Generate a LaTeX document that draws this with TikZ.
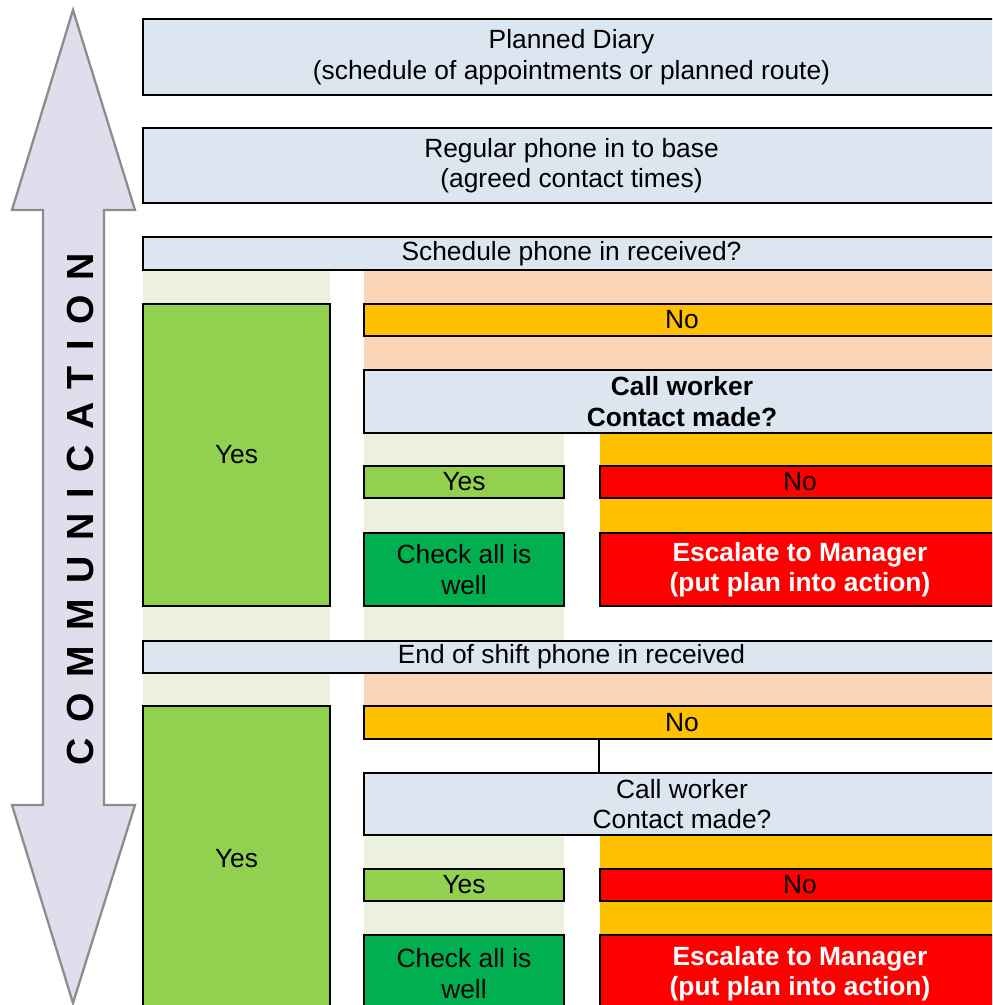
\documentclass[tikz,border=0pt]{standalone}
\usepackage{fontspec}
\setmainfont{Liberation Sans}
\newfontfamily\spacedfont[LetterSpace=41]{Liberation Sans}

\definecolor{boxblue}{HTML}{DCE6F1}
\definecolor{yesgreen}{HTML}{92D050}
\definecolor{okgreen}{HTML}{00B050}
\definecolor{amber}{HTML}{FFC000}
\definecolor{alarmred}{HTML}{FF0000}
\definecolor{peach}{HTML}{FBD5B5}
\definecolor{palegreen}{HTML}{EBF1DE}
\definecolor{lavender}{HTML}{E0DEEC}
\definecolor{arrowgrey}{HTML}{8C8C8C}

\begin{document}
\begin{tikzpicture}
                    [
                        x=0.02cm, y=-0.02cm,
                        cellsize/.style 2 args={minimum width=#1*0.02cm, minimum height=#2*0.02cm},
                        cell/.style={draw=black, line width=1.3pt, inner sep=0pt, align=center,
                                     font=\fontsize{15}{17.4}\selectfont},
                        askbox/.style={cell, fill=boxblue},
                        yesbox/.style={cell, fill=yesgreen},
                        nobox/.style={cell, fill=amber},
                        stopbox/.style={cell, fill=alarmred, text=white,
                                        font=\fontsize{15}{17.4}\selectfont\bfseries},
                        okbox/.style={cell, fill=okgreen}
                    ]

                    \useasboundingbox (0,0) rectangle (992,1005);
                    \clip (0,0) rectangle (992,1005);

                    % Hintergrund
                    \fill[palegreen] (143,270) rectangle (330,1005);
                    \fill[peach] (364,270) rectangle (992,370);
                    \fill[peach] (364,673) rectangle (992,706);
                    \fill[palegreen] (364,433) rectangle (564,641);
                    \fill[palegreen] (364,835) rectangle (564,1005);
                    \fill[amber] (600,433) rectangle (992,533);
                    \fill[amber] (600,835) rectangle (992,935);

                    % Doppelpfeil
                    \draw[fill=lavender, draw=arrowgrey, line width=1.3pt, line join=miter]
                        (73,10) -- (135,210) -- (104,210) -- (104,805) -- (135,805) -- (73,1003)
                        -- (12,805) -- (43,805) -- (43,210) -- (12,210) -- cycle;
                    \node[rotate=90, inner sep=0pt, font=\spacedfont\bfseries\fontsize{21.5}{24}\selectfont]
                        (comm) at (80,509) {COMMUNICATION};

                    \node[askbox, cellsize={857}{76}] (diary) at (571.5,57)
                        {Planned Diary\\(schedule of appointments or planned route)};
                    \node[askbox, cellsize={857}{75}] (base) at (571.5,165.5)
                        {Regular phone in to base\\(agreed contact times)};

                    % Tagsueber
                    \node[askbox, cellsize={857}{33}] (sched) at (571.5,253.5) {Schedule phone in received?};
                    \node[yesbox, cellsize={187}{302}] (yesA) at (236.5,455) {Yes};
                    \node[nobox, cellsize={636}{32}] (noA) at (682,320) {No};
                    \node[askbox, cellsize={636}{63}, font=\fontsize{15}{17.4}\selectfont\bfseries] (callA)
                        at (682,401.5) {Call worker\\Contact made?};
                    \node[yesbox, cellsize={200}{32}] (yesA2) at (464,482) {Yes};
                    \node[stopbox, cellsize={400}{32}, text=black, font=\fontsize{15}{17.4}\selectfont] (noA2)
                        at (800,482) {No};
                    \node[okbox, cellsize={200}{73}] (checkA) at (464,569.5) {Check all is\\well};
                    \node[stopbox, cellsize={400}{73}] (escA) at (800,569.5)
                        {Escalate to Manager\\(put plan into action)};

                    % Schichtende
                    \node[askbox, cellsize={857}{32}] (shift) at (571.5,657) {End of shift phone in received};
                    \node[yesbox, cellsize={187}{306}] (yesB) at (236.5,859) {Yes};
                    \node[nobox, cellsize={636}{33}] (noB) at (682,722.5) {No};
                    \node[askbox, cellsize={636}{62}] (callB) at (682,804) {Call worker\\Contact made?};
                    \node[yesbox, cellsize={200}{32}] (yesB2) at (464,885) {Yes};
                    \node[stopbox, cellsize={400}{32}, text=black, font=\fontsize{15}{17.4}\selectfont] (noB2)
                        at (800,885) {No};
                    \node[okbox, cellsize={200}{77}] (checkB) at (464,973.5) {Check all is\\well};
                    \node[stopbox, cellsize={400}{77}] (escB) at (800,973.5)
                        {Escalate to Manager\\(put plan into action)};

                    \draw[line width=1.3pt] (noB.south -| noB2.west) -- (callB.north -| noB2.west);
                \end{tikzpicture}
\end{document}
